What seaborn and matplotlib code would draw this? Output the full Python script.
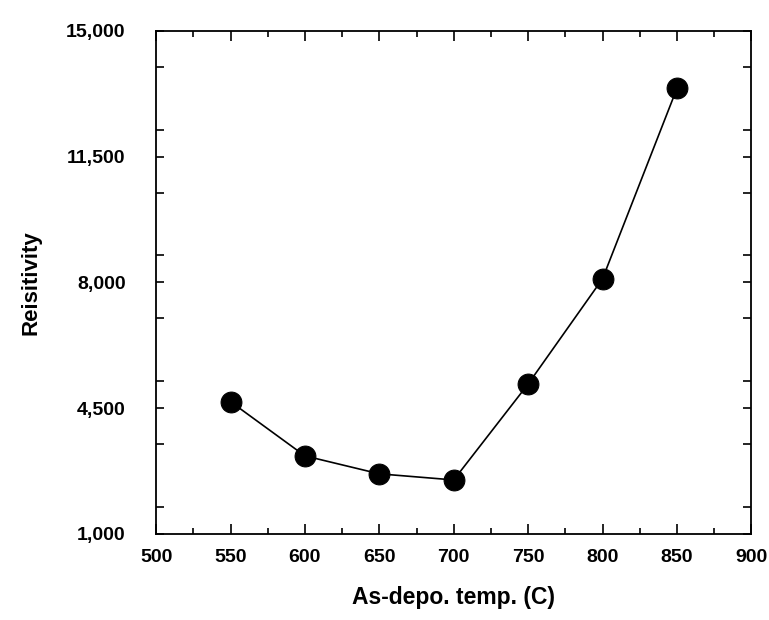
import pandas as pd
import matplotlib
matplotlib.use("Agg")
import matplotlib.pyplot as plt
import seaborn as sns
from matplotlib.ticker import FixedLocator, MultipleLocator, FuncFormatter

# data
temps = [550, 600, 650, 700, 750, 800, 850]
resistivity = [4680, 3170, 2670, 2500, 5170, 8100, 13400]
y_ticks = [1000, 4500, 8000, 11500, 15000]

df = pd.DataFrame({"As-depo. temp. (C)": temps, "Reisitivity": resistivity})

sns.set_style("ticks")
plt.rcParams["font.family"] = ["Liberation Sans", "DejaVu Sans"]
plt.rcParams["font.weight"] = "bold"
plt.rcParams["text.color"] = "black"
plt.rcParams["axes.labelcolor"] = "black"
plt.rcParams["xtick.color"] = "black"
plt.rcParams["ytick.color"] = "black"
plt.rcParams["axes.edgecolor"] = "black"

fig = plt.figure(figsize=(7.69, 6.2), dpi=100)
ax = fig.add_axes([0.203, 0.139, 0.774, 0.811])

sns.lineplot(x="As-depo. temp. (C)", y="Reisitivity", data=df, ax=ax,
             color="black", linewidth=1.2, marker="o", markersize=15,
             markeredgecolor="black", markerfacecolor="black")

ax.set_xlim(500, 900)
ax.set_ylim(1000, 15000)
ax.xaxis.set_major_locator(MultipleLocator(50))
ax.xaxis.set_minor_locator(MultipleLocator(25))
ax.yaxis.set_major_locator(FixedLocator(y_ticks))
ax.yaxis.set_minor_locator(MultipleLocator(1750))
ax.yaxis.set_major_formatter(FuncFormatter(lambda v, p: f"{int(v):,}"))

# ticks pointing in, on all four sides
ax.tick_params(which="both", direction="in", top=True, right=True, width=1.2)
ax.tick_params(axis="x", which="major", length=7, pad=11, labelsize=14)
ax.tick_params(axis="x", which="minor", length=4)
ax.tick_params(axis="y", which="both", length=6)
ax.tick_params(axis="y", which="major", pad=22, labelsize=14)
for lab in ax.get_xticklabels() + ax.get_yticklabels():
    lab.set_fontweight("bold")

for s in ax.spines.values():
    s.set_linewidth(1.3)

ax.set_xlabel("As-depo. temp. (C)", fontsize=16.5, fontweight="bold", labelpad=14)
ax.set_ylabel("Reisitivity", fontsize=16, fontweight="bold", labelpad=18)

plt.savefig("out.png", dpi=100)
